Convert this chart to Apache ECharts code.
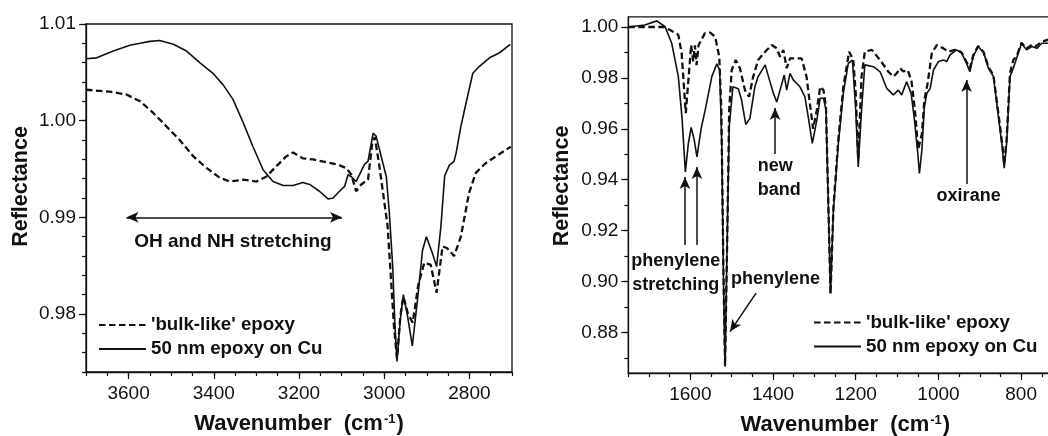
<!DOCTYPE html>
<html>
<head>
<meta charset="utf-8">
<script src="https://cdn.jsdelivr.net/npm/echarts@6/dist/echarts.min.js"></script>
<style>
  html, body { margin: 0; padding: 0; background: #fff; }
  #chart { width: 1048px; height: 436px; }
</style>
</head>
<body>
<div id="chart"></div>
<script>
// ---- OH / NH / CH stretching region (left panel) ----
const leftFilmX = [3700, 3675, 3636, 3597, 3573, 3550, 3527, 3495, 3464, 3433, 3402, 3378, 3355, 3331, 3308, 3284,
  3261, 3237, 3214, 3191, 3175, 3152, 3132, 3120, 3105, 3093, 3085, 3077, 3066, 3056, 3046, 3038, 3026, 3019, 3007,
  2995, 2988, 2980, 2975, 2970, 2962, 2955, 2946, 2934, 2922, 2910, 2901, 2887, 2877, 2867, 2858, 2847, 2836, 2831,
  2820, 2808, 2792, 2777, 2753, 2730, 2704];
const leftFilmY = [1.0064, 1.0065, 1.0072, 1.0078, 1.0080, 1.0082, 1.0083, 1.0079, 1.0072, 1.0060, 1.0049, 1.0037, 1.0022, 0.9998, 0.9973, 0.9949,
  0.9937, 0.9933, 0.9933, 0.9936, 0.9934, 0.9927, 0.9919, 0.9920, 0.9927, 0.9932, 0.9944, 0.9942, 0.9937, 0.9946, 0.9955, 0.9958, 0.9987, 0.9984, 0.9963,
  0.9942, 0.9905, 0.9849, 0.9790, 0.9751, 0.9795, 0.9820, 0.9800, 0.9767, 0.9814, 0.9866, 0.9880, 0.9863, 0.9849, 0.9890, 0.9943, 0.9954, 0.9958, 0.9967,
  0.9994, 1.0018, 1.0049, 1.0056, 1.0065, 1.0070, 1.0079];

const leftBulkX = [3700, 3644, 3605, 3573, 3542, 3511, 3480, 3448, 3417, 3386, 3363, 3331, 3300, 3277, 3253, 3230,
  3214, 3191, 3167, 3136, 3112, 3089, 3077, 3066, 3054, 3038, 3028, 3022, 3012, 2992, 2977, 2970, 2962, 2955, 2944,
  2933, 2920, 2906, 2891, 2877, 2863, 2852, 2836, 2820, 2801, 2785, 2762, 2731, 2703];
const leftBulkY = [1.0032, 1.0030, 1.0027, 1.0020, 1.0008, 0.9994, 0.9980, 0.9963, 0.9951, 0.9941, 0.9937, 0.9939, 0.9937, 0.9942, 0.9953, 0.9963,
  0.9967, 0.9961, 0.9960, 0.9957, 0.9955, 0.9951, 0.9944, 0.9927, 0.9934, 0.9939, 0.9977, 0.9983, 0.9955, 0.9891, 0.9787, 0.9754, 0.9798, 0.9818, 0.9800,
  0.9791, 0.9830, 0.9853, 0.9851, 0.9822, 0.9870, 0.9868, 0.9860, 0.9880, 0.9925, 0.9946, 0.9956, 0.9965, 0.9973];

// ---- fingerprint region (right panel) ----
const rightFilmX = [1750, 1710, 1681, 1661, 1645, 1629, 1620, 1612, 1605, 1598, 1591, 1584, 1574, 1564, 1548, 1536,
  1529, 1524, 1520, 1516, 1511, 1506, 1497, 1484, 1476, 1466, 1456, 1444, 1436, 1419, 1411, 1399, 1391, 1383, 1373,
  1367, 1359, 1351, 1335, 1323, 1315, 1305, 1294, 1286, 1278, 1272, 1266, 1261, 1254, 1242, 1230, 1218, 1208, 1200,
  1194, 1186, 1178, 1157, 1141, 1125, 1109, 1097, 1089, 1077, 1066, 1058, 1050, 1046, 1040, 1034, 1028, 1020, 1012,
  1000, 988, 980, 972, 956, 944, 932, 924, 916, 904, 891, 879, 867, 855, 845, 841, 835, 827, 819, 811, 799, 787, 774,
  762, 750, 735];
const rightFilmY = [1.0000, 1.0008, 1.0024, 1.0001, 0.9936, 0.9805, 0.9640, 0.9430, 0.9540, 0.9605, 0.9560, 0.9490, 0.9600, 0.9674, 0.9805, 0.9855,
  0.9831, 0.9543, 0.9019, 0.8665, 0.9150, 0.9608, 0.9765, 0.9757, 0.9713, 0.9617, 0.9640, 0.9765, 0.9805, 0.9851, 0.9805, 0.9739, 0.9705, 0.9752, 0.9811,
  0.9752, 0.9818, 0.9792, 0.9765, 0.9726, 0.9648, 0.9543, 0.9635, 0.9720, 0.9720, 0.9674, 0.9281, 0.8955, 0.9280, 0.9543, 0.9740, 0.9857, 0.9870, 0.9674,
  0.9450, 0.9674, 0.9851, 0.9844, 0.9824, 0.9759, 0.9733, 0.9752, 0.9733, 0.9785, 0.9739, 0.9635, 0.9504, 0.9425, 0.9517, 0.9687, 0.9739, 0.9759, 0.9831,
  0.9864, 0.9870, 0.9864, 0.9890, 0.9910, 0.9897, 0.9857, 0.9824, 0.9884, 0.9923, 0.9900, 0.9838, 0.9805, 0.9648, 0.9517, 0.9445, 0.9543, 0.9805, 0.9838, 0.9877, 0.9936, 0.9910, 0.9923,
  0.9916, 0.9936, 0.9936];

const rightBulkX = [1750, 1665, 1649, 1629, 1621, 1616, 1611, 1604, 1598, 1593, 1589, 1585, 1580, 1565, 1552, 1540,
  1530, 1525, 1520, 1516, 1511, 1506, 1500, 1490, 1480, 1468, 1458, 1448, 1436, 1419, 1403, 1391, 1383, 1375, 1367,
  1359, 1347, 1331, 1319, 1311, 1303, 1294, 1286, 1278, 1272, 1266, 1261, 1254, 1242, 1230, 1216, 1206, 1200, 1194,
  1186, 1178, 1161, 1141, 1121, 1109, 1101, 1093, 1085, 1074, 1065, 1057, 1049, 1040, 1034, 1026, 1016, 1004, 988,
  976, 956, 944, 932, 924, 916, 904, 891, 879, 867, 855, 845, 841, 835, 827, 819, 811, 799, 787, 774, 766, 750, 735];
const rightBulkY = [1.0000, 1.0000, 0.9988, 0.9969, 0.9897, 0.9779, 0.9661, 0.9805, 0.9930, 0.9865, 0.9928, 0.9850, 0.9929, 0.9975, 0.9978, 0.9962,
  0.9883, 0.9674, 0.9050, 0.8670, 0.9150, 0.9674, 0.9831, 0.9870, 0.9838, 0.9752, 0.9726, 0.9805, 0.9870, 0.9903, 0.9929, 0.9916, 0.9883, 0.9910, 0.9838,
  0.9877, 0.9877, 0.9877, 0.9805, 0.9700, 0.9600, 0.9674, 0.9765, 0.9752, 0.9687, 0.9290, 0.8950, 0.9290, 0.9560, 0.9765, 0.9903, 0.9870, 0.9740, 0.9480,
  0.9805, 0.9903, 0.9910, 0.9870, 0.9824, 0.9805, 0.9818, 0.9838, 0.9825, 0.9830, 0.9785, 0.9674, 0.9520, 0.9580, 0.9713, 0.9780, 0.9897, 0.9929, 0.9916,
  0.9903, 0.9912, 0.9900, 0.9862, 0.9838, 0.9888, 0.9925, 0.9902, 0.9842, 0.9810, 0.9660, 0.9530, 0.9460, 0.9560, 0.9818, 0.9870, 0.9885, 0.9938, 0.9915, 0.9930, 0.9923, 0.9942, 0.9950];

// ---- tick labels ----
const leftXTicks = [3600, 3400, 3200, 3000, 2800];
const leftYTicks = [0.98, 0.99, 1.00, 1.01];
const rightXTicks = [1600, 1400, 1200, 1000, 800];
const rightYTicks = [0.88, 0.90, 0.92, 0.94, 0.96, 0.98, 1.00];

const BULK = "'bulk-like' epoxy";
const FILM = "50 nm epoxy on Cu";
const FONT = '"Liberation Sans", Arial, Helvetica, sans-serif';
const INK = '#111';

function range(from, to, step, digits) {
  const out = [];
  const n = Math.round((to - from) / step);
  for (let i = 0; i <= n; i++) out.push(+(from + i * step).toFixed(digits));
  return out;
}
const zip = (xs, ys) => xs.map((x, i) => [x, ys[i]]);

const leftXMinor = range(2700, 3700, 50, 0);
const leftYMinor = range(0.974, 1.010, 0.002, 3);
const rightXMinor = range(700, 1750, 50, 0);
const rightYMinor = range(0.87, 1.00, 0.01, 2);

const tickLine = { color: INK, width: 1.2 };
const titleRich = {
  t: { fontFamily: FONT, fontSize: 22, fontWeight: 'bold', color: INK },
  s: { fontFamily: FONT, fontSize: 13, fontWeight: 'bold', color: INK, verticalAlign: 'top', padding: [0, 1, 0, 1] }
};

function xAxes(grid, min, max, labels, minor) {
  return [
    {
      gridIndex: grid, type: 'value', min, max, inverse: true, position: 'bottom',
      axisLine: { show: true, onZero: false, lineStyle: { color: INK, width: 1.3 } },
      axisTick: { show: true, inside: false, length: 4, customValues: minor, lineStyle: tickLine },
      axisLabel: { show: true, customValues: labels, margin: 12, fontFamily: FONT, fontSize: 19, color: INK, formatter: v => String(v) },
      splitLine: { show: false },
      name: '{t|Wavenumber  (cm}{s|-1}{t|)}', nameLocation: 'middle', nameGap: 41,
      nameTextStyle: { rich: titleRich }
    },
    {
      gridIndex: grid, type: 'value', min, max, inverse: true, position: 'bottom',
      axisLine: { show: false },
      axisTick: { show: true, inside: false, length: 7, customValues: labels, lineStyle: tickLine },
      axisLabel: { show: false },
      splitLine: { show: false }
    }
  ];
}

function yAxes(grid, min, max, labels, minor) {
  return [
    {
      gridIndex: grid, type: 'value', min, max, position: 'left',
      axisLine: { show: true, onZero: false, lineStyle: { color: INK, width: 1.3 } },
      axisTick: { show: true, inside: false, length: 4, customValues: minor, lineStyle: tickLine },
      axisLabel: { show: true, customValues: labels, margin: 10, fontFamily: FONT, fontSize: 19, color: INK, formatter: v => v.toFixed(2) },
      splitLine: { show: false }
    },
    {
      gridIndex: grid, type: 'value', min, max, position: 'left',
      axisLine: { show: false },
      axisTick: { show: true, inside: false, length: 7, customValues: labels, lineStyle: tickLine },
      axisLabel: { show: false },
      splitLine: { show: false }
    }
  ];
}

const annoLabel = { show: true, position: 'inside', fontFamily: FONT, fontSize: 18, fontWeight: 'bold', color: INK, lineHeight: 24 };
function note(coord, text, align, size) {
  return { coord, value: text, label: Object.assign({}, annoLabel, { formatter: text, align: align || 'center', fontSize: size || 18 }) };
}
const arrowStyle = { color: INK, width: 1.5, type: 'solid' };

function curve(name, data, xi, yi, dashed, extra) {
  return Object.assign({
    name, type: 'line', xAxisIndex: xi, yAxisIndex: yi, data,
    symbol: 'none', showSymbol: false, smooth: false, silent: true,
    lineStyle: dashed ? { color: INK, width: 2.3, type: [6.5, 3.5] } : { color: INK, width: 1.6 },
    itemStyle: { color: INK }
  }, extra || {});
}

const legendBase = {
  data: [BULK, FILM], orient: 'vertical', padding: 0,
  itemWidth: 47, itemHeight: 14, itemGap: 4, selectedMode: false,
  itemStyle: { opacity: 0, borderWidth: 0 },
  textStyle: { fontFamily: FONT, fontSize: 18.7, fontWeight: 'bold', color: INK, lineHeight: 20 }
};

const chart = echarts.init(document.getElementById('chart'), null, { renderer: 'canvas' });
chart.setOption({
  animation: false,
  backgroundColor: '#fff',
  grid: [
    { left: 86, top: 24, width: 426, height: 348, show: true, borderColor: INK, borderWidth: 1.3, outerBoundsMode: 'none', containLabel: false },
    { left: 628.3, top: 16.8, width: 434.2, height: 356.3, show: true, borderColor: INK, borderWidth: 1.3, outerBoundsMode: 'none', containLabel: false }
  ],
  xAxis: [].concat(xAxes(0, 2700, 3700, leftXTicks, leftXMinor), xAxes(1, 700, 1750, rightXTicks, rightXMinor)),
  yAxis: [].concat(yAxes(0, 0.974, 1.010, leftYTicks, leftYMinor), yAxes(1, 0.864, 1.004, rightYTicks, rightYMinor)),
  legend: [
    Object.assign({}, legendBase, { left: 98, top: 315 }),
    Object.assign({}, legendBase, { left: 813, top: 312.5 })
  ],
  graphic: [
    { type: 'text', x: 21, y: 186.5, rotation: Math.PI / 2,
      style: { text: 'Reflectance', font: 'bold 21.5px ' + FONT, fill: INK, align: 'center', verticalAlign: 'middle' } },
    { type: 'text', x: 562, y: 186, rotation: Math.PI / 2,
      style: { text: 'Reflectance', font: 'bold 21.5px ' + FONT, fill: INK, align: 'center', verticalAlign: 'middle' } }
  ],
  series: [
    curve(BULK, zip(leftBulkX, leftBulkY), 0, 0, true),
    curve(FILM, zip(leftFilmX, leftFilmY), 0, 0, false, {
      markLine: {
        silent: true, animation: false, symbol: ['arrow', 'arrow'], symbolSize: [8, 12],
        label: { show: false }, lineStyle: arrowStyle,
        data: [[{ coord: [3605, 0.9900] }, { coord: [3099, 0.9900] }]]
      },
      markPoint: {
        silent: true, animation: false, symbol: 'circle', symbolSize: 1, itemStyle: { color: 'rgba(0,0,0,0)' },
        data: [note([3355, 0.9875], 'OH and NH stretching', 'center', 19)]
      }
    }),
    curve(BULK, zip(rightBulkX, rightBulkY), 2, 2, true),
    curve(FILM, zip(rightFilmX, rightFilmY), 2, 2, false, {
      markLine: {
        silent: true, animation: false, symbol: ['none', 'arrow'], symbolSize: [8, 12],
        label: { show: false }, lineStyle: arrowStyle,
        data: [
          [{ coord: [1613, 0.9143] }, { coord: [1613, 0.9411] }],
          [{ coord: [1584, 0.9143] }, { coord: [1584, 0.9450] }],
          [{ coord: [1395, 0.9501] }, { coord: [1395, 0.9682] }],
          [{ coord: [932, 0.9383] }, { coord: [932, 0.9792] }],
          [{ coord: [1441, 0.8954] }, { coord: [1504, 0.8803] }]
        ]
      },
      markPoint: {
        silent: true, animation: false, symbol: 'circle', symbolSize: 1, itemStyle: { color: 'rgba(0,0,0,0)' },
        data: [
          note([1635, 0.9033], 'phenylene\nstretching'),
          note([1394, 0.9008], 'phenylene'),
          note([1437, 0.9405], 'new\nband', 'left'),
          note([927, 0.9336], 'oxirane')
        ]
      }
    })
  ]
});
</script>
</body>
</html>
